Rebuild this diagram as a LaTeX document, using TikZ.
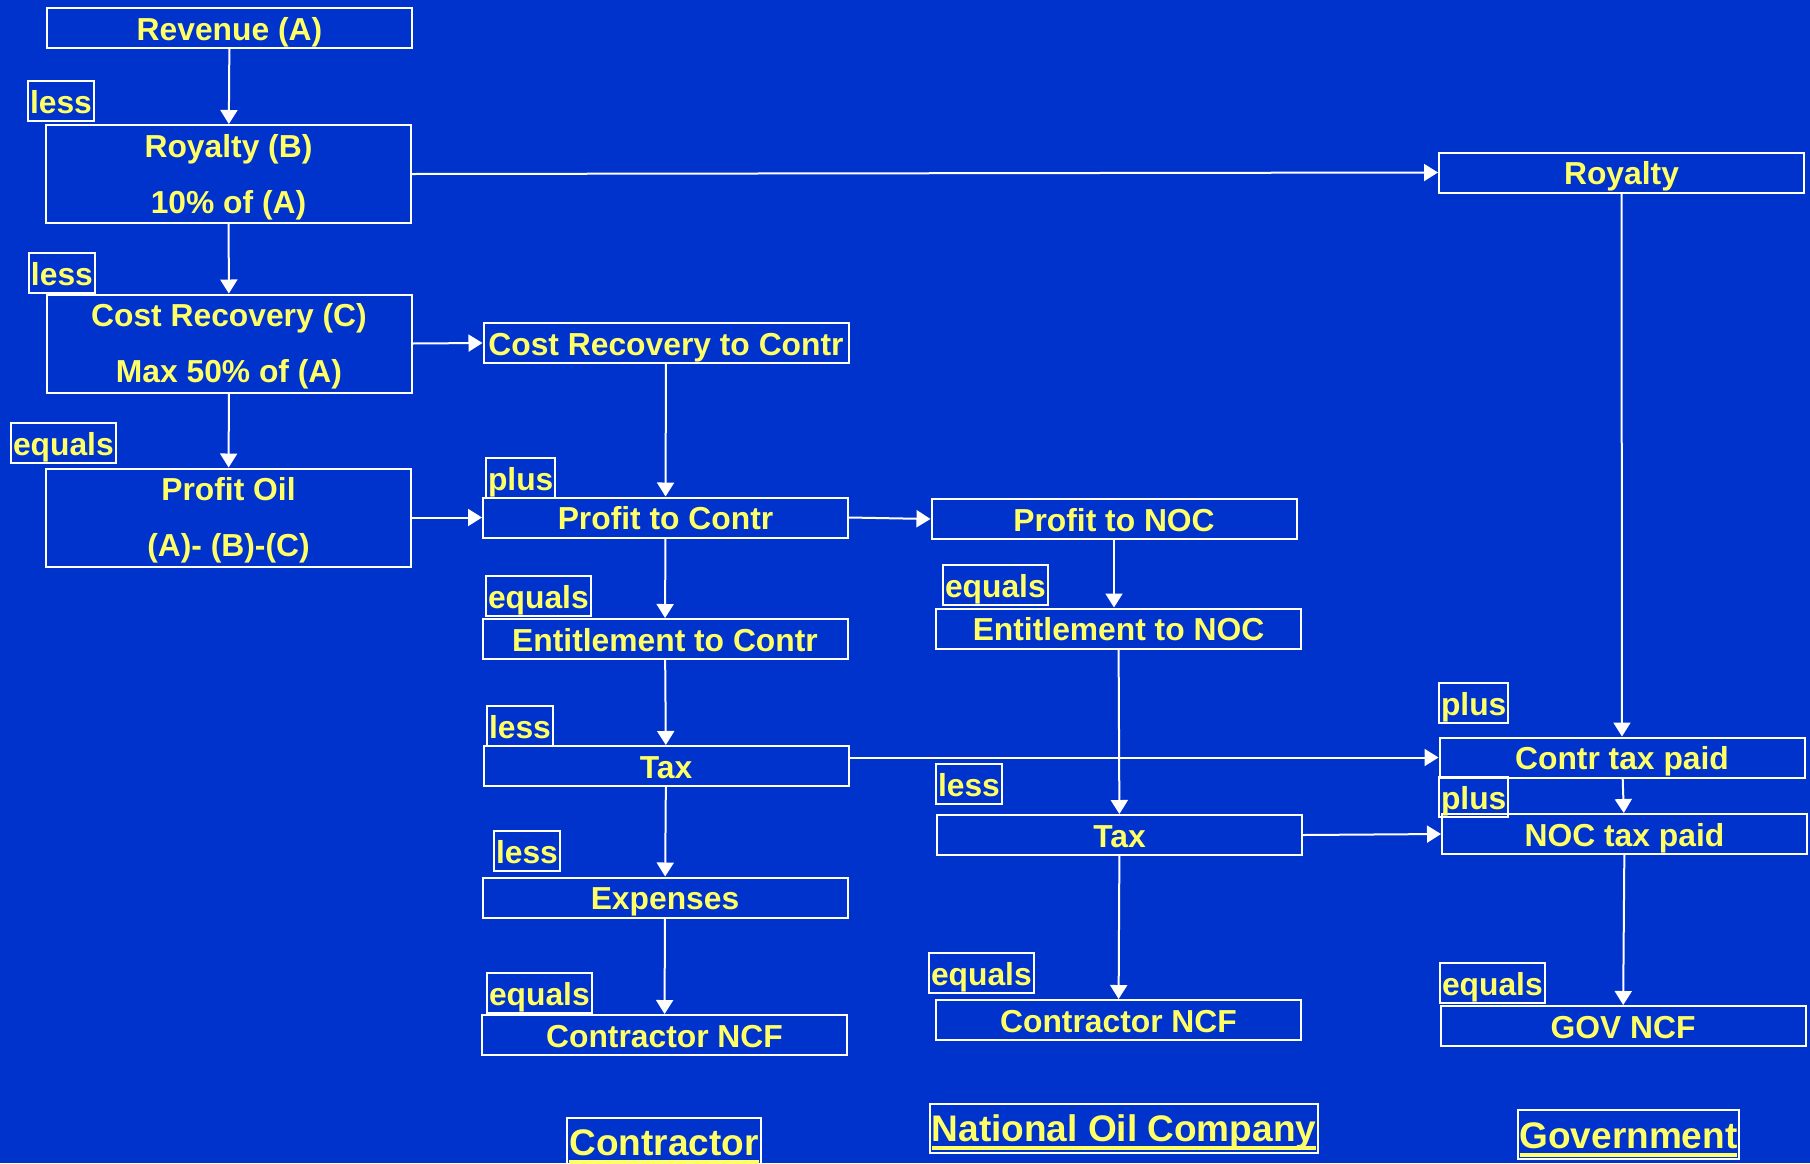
\documentclass[tikz,border=0pt]{standalone}
\usepackage{fontspec}
\setmainfont{Liberation Sans}
\usetikzlibrary{arrows.meta}
\definecolor{bgblue}{RGB}{0,51,204}
\definecolor{txtyellow}{RGB}{255,255,102}
\newsavebox{\ulbox}
\newcommand{\thickul}[1]{\sbox{\ulbox}{#1}\rlap{\usebox{\ulbox}}\rule[-4.3pt]{\wd\ulbox}{2pt}}
\tikzset{
  box/.style={draw=white, line width=1pt, text=txtyellow, font=\fontsize{15.9}{28}\selectfont\bfseries,
    minimum width=182.5pt, minimum height=20pt, inner sep=0pt, align=center,
    text height=14pt, text depth=2pt},
  tall/.style={minimum height=49pt, text height=41pt, text depth=2pt},
  op/.style={draw=white, line width=1pt, text=txtyellow, font=\fontsize{15.9}{18}\selectfont\bfseries,
    inner xsep=1pt, inner ysep=0pt, minimum height=20pt, anchor=north west,
    text height=14pt, text depth=2pt},
  party/.style={draw=white, line width=1pt, text=txtyellow, font=\fontsize{18.5}{22}\selectfont\bfseries,
    inner sep=1pt, minimum height=24pt, text height=18pt, text depth=4.5pt},
  arr/.style={draw=white, line width=1pt, -{Triangle[width=8.5pt,length=7pt]}}
}
\begin{document}
\begin{tikzpicture}[x=0.5pt,y=-0.5pt]
	\fill[bgblue] (0,0) rectangle (1810,1163);
	\useasboundingbox (0,0) rectangle (1810,1163);

	\node[box] (rev) at (229.5,28) {Revenue (A)};
	\node[box,tall] (royb) at (228.5,174) {Royalty (B)\\10\% of (A)};
	\node[box,tall] (costc) at (229,343.5) {Cost Recovery (C)\\Max 50\% of (A)};
	\node[box,tall] (poil) at (228.5,517.5) {Profit Oil\\(A)- (B)-(C)};

	\node[box] (crc) at (666,343) {Cost Recovery to Contr};
	\node[box] (ptc) at (665.5,517.5) {Profit to Contr};
	\node[box] (etc) at (665,639) {Entitlement to Contr};
	\node[box] (taxc) at (666,766) {Tax};
	\node[box] (exp) at (665,897.5) {Expenses};
	\node[box] (ncfc) at (664.5,1035) {Contractor NCF};

	\node[box] (ptn) at (1114,519) {Profit to NOC};
	\node[box] (etn) at (1118.5,628.5) {Entitlement to NOC};
	\node[box] (taxn) at (1119.5,835) {Tax};
	\node[box] (ncfn) at (1118.5,1020) {Contractor NCF};

	\node[box] (roy) at (1621.5,172.5) {Royalty};
	\node[box] (ctp) at (1622,757.5) {Contr tax paid};
	\node[box] (ntp) at (1624.5,834) {NOC tax paid};
	\node[box] (gncf) at (1623,1026) {GOV NCF};

	\node[op] (less1) at (27,80) {less};
	\node[op] (less2) at (28,252) {less};
	\node[op] (eq1) at (10,422) {equals};
	\node[op] (plus1) at (485,457) {plus};
	\node[op] (eq2) at (485,575) {equals};
	\node[op] (less3) at (486,705) {less};
	\node[op] (less4) at (493,830) {less};
	\node[op] (eq3) at (486,972) {equals};
	\node[op] (eq4) at (942,564) {equals};
	\node[op] (less5) at (935,763) {less};
	\node[op] (eq5) at (928,952) {equals};
	\node[op] (plus2) at (1438,682) {plus};
	\node[op] (plus3) at (1438,776) {plus};
	\node[op] (eq6) at (1439,962) {equals};

	\node[party] (contr) at (664,1142) {\thickul{Contractor}};
	\node[party] (noc) at (1124,1128) {\thickul{National Oil Company}};
	\node[party] (govt) at (1628.5,1134.5) {\thickul{Government}};

	\draw[arr] (rev) -- (royb);
	\draw[arr] (royb) -- (costc);
	\draw[arr] (costc) -- (poil);
	\draw[arr] (royb.east) -- (roy.west);
	\draw[arr] (costc.east) -- (crc.west);
	\draw[arr] (poil.east) -- (ptc.west);
	\draw[arr] (crc) -- (ptc);
	\draw[arr] (ptc.east) -- (ptn.west);
	\draw[arr] (ptc) -- (etc);
	\draw[arr] (etc) -- (taxc);
	\draw[arr] (taxc) -- (exp);
	\draw[arr] (exp) -- (ncfc);
	\draw[arr] (taxc.east |- ctp.west) -- (ctp.west);
	\draw[arr] (ptn.south) -- (ptn.south |- etn.north);
	\draw[arr] (etn) -- (taxn);
	\draw[arr] (taxn) -- (ncfn);
	\draw[arr] (taxn.east) -- (ntp.west);
	\draw[arr] (roy) -- (ctp);
	\draw[arr] (ctp) -- (ntp);
	\draw[arr] (ntp) -- (gncf);
\end{tikzpicture}
\end{document}
